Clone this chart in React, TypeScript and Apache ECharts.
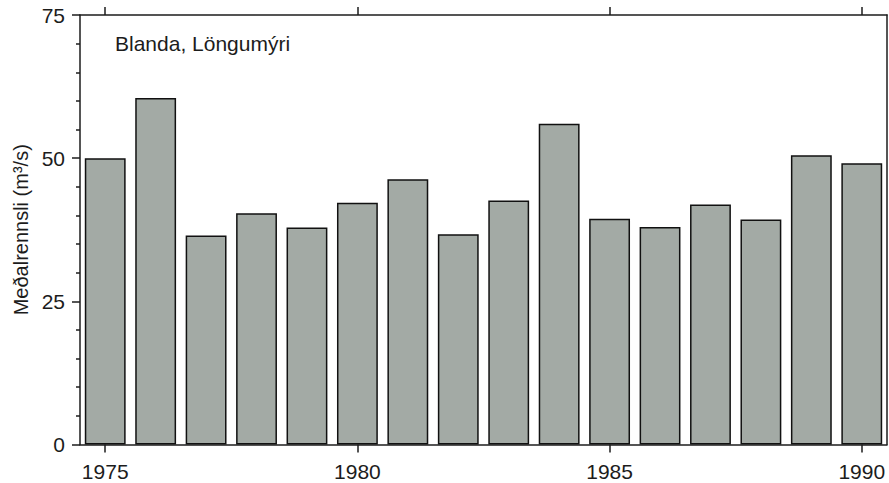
import React, { useEffect, useRef } from "react";
import * as echarts from "echarts";

const years = ["1975","1976","1977","1978","1979","1980","1981","1982","1983","1984","1985","1986","1987","1988","1989","1990"];
const flow = [50.0, 60.5, 36.5, 40.4, 37.9, 42.2, 46.3, 36.7, 42.6, 56.0, 39.4, 38.0, 41.9, 39.3, 50.5, 49.1];
const yTicks = { min: 0, max: 75, interval: 25 };
const title = "Blanda, Löngumýri";
const yName = "Meðalrennsli (m³/s)";

const FONT = "'Liberation Sans', Arial, sans-serif";
const INK = "#1c1c1c";

export default function App() {
  const ref = useRef<HTMLDivElement>(null);
  useEffect(() => {
    const chart = echarts.init(ref.current!, null, { renderer: "svg" });
    const showEvery5 = (i: number) => i % 5 === 0;
    chart.setOption({
      animation: false,
      backgroundColor: "#ffffff",
      grid: { left: 80, right: 2, top: 15, bottom: 38.5, containLabel: false },
      graphic: [
        {
          type: "text",
          left: 115,
          top: 33,
          style: { text: title, font: `21px ${FONT}`, fill: INK },
        },
      ],
      xAxis: [
        {
          type: "category",
          data: years,
          position: "bottom",
          boundaryGap: true,
          axisLine: { show: true, onZero: false, lineStyle: { color: INK, width: 1.5 } },
          axisTick: { show: true, inside: false, alignWithLabel: true, interval: showEvery5, length: 8, lineStyle: { color: INK, width: 1.5 } },
          axisLabel: { interval: showEvery5, color: INK, fontSize: 21, fontFamily: FONT, margin: 16 },
        },
        {
          type: "category",
          data: years,
          position: "top",
          boundaryGap: true,
          axisLine: { show: true, onZero: false, lineStyle: { color: INK, width: 1.5 } },
          axisTick: { show: true, inside: false, alignWithLabel: true, interval: showEvery5, length: 8, lineStyle: { color: INK, width: 1.5 } },
          axisLabel: { show: false },
        },
      ],
      yAxis: [
        {
          type: "value",
          position: "left",
          min: yTicks.min,
          max: yTicks.max,
          interval: yTicks.interval,
          name: yName,
          nameLocation: "middle",
          nameGap: 49,
          nameTextStyle: { color: INK, fontSize: 20, fontFamily: FONT },
          axisLine: { show: true, onZero: false, lineStyle: { color: INK, width: 1.5 } },
          axisTick: { show: true, inside: false, length: 8, lineStyle: { color: INK, width: 1.5 } },
          minorTick: { show: true, splitNumber: 5, length: 4, lineStyle: { color: INK, width: 1.5 } },
          axisLabel: { color: INK, fontSize: 21, fontFamily: FONT, margin: 15 },
          splitLine: { show: false },
        },
        {
          type: "value",
          position: "right",
          min: yTicks.min,
          max: yTicks.max,
          interval: yTicks.interval,
          axisLine: { show: true, onZero: false, lineStyle: { color: INK, width: 1.5 } },
          axisTick: { show: false },
          axisLabel: { show: false },
          splitLine: { show: false },
        },
      ],
      series: [
        {
          type: "bar",
          data: flow,
          xAxisIndex: 0,
          yAxisIndex: 0,
          barCategoryGap: "19%",
          itemStyle: { color: "#a3aaa5", borderColor: "#111111", borderWidth: 1.5 },
        },
      ],
    });
    return () => chart.dispose();
  }, []);
  return <div ref={ref} style={{ width: 889, height: 483, position: "absolute", left: 0, top: 0 }} />;
}
